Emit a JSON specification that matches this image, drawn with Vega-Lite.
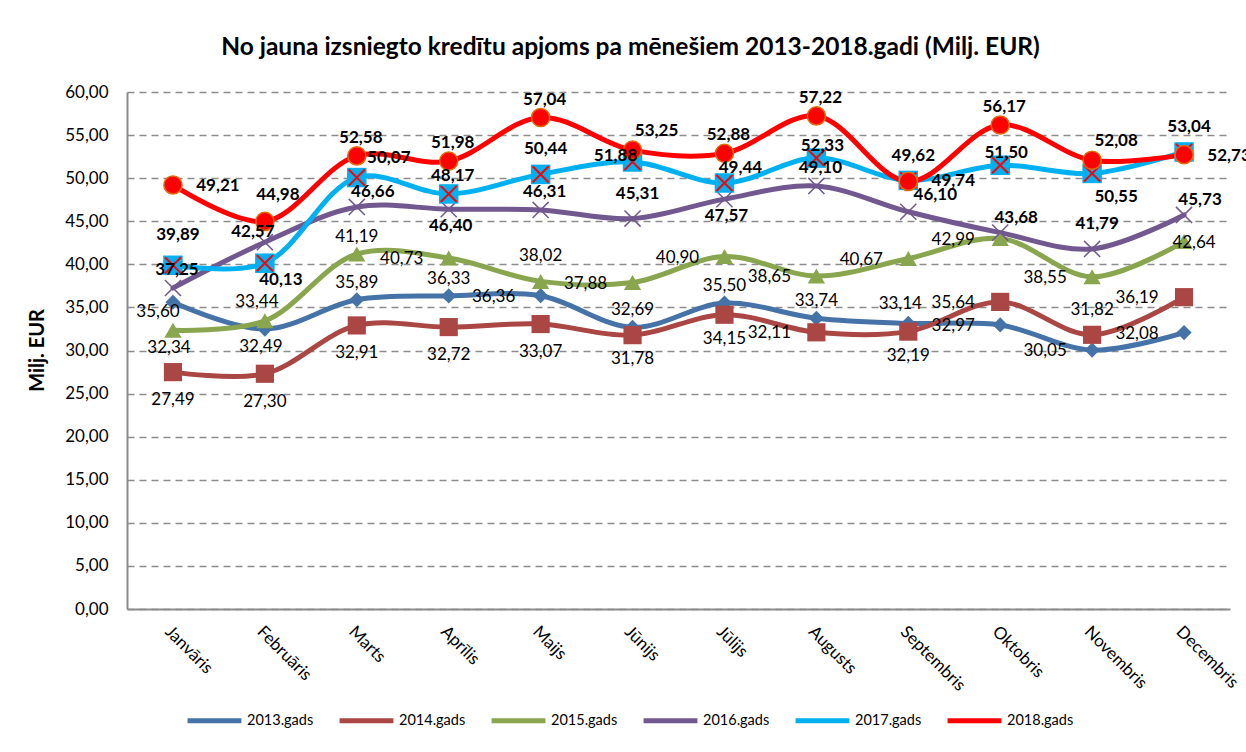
{
  "$schema": "https://vega.github.io/schema/vega-lite/v6.json",
  "autosize": "none",
  "width": 1103,
  "height": 517,
  "padding": {"left": 127, "top": 92, "right": 16, "bottom": 143},
  "background": "white",
  "config": {
    "locale": {"number": {"decimal": ",", "thousands": " ", "grouping": [3], "currency": ["", " €"]}},
    "font": "Lato",
    "view": {"stroke": null}
  },
  "title": {
    "text": "No jauna izsniegto kredītu apjoms pa mēnešiem 2013-2018.gadi (Milj. EUR)",
    "font": "Lato", "fontSize": 24.5, "fontWeight": "bold", "color": "#000000",
    "anchor": "middle", "frame": "group", "dx": -48, "offset": 23
  },
  "datasets": {
    "d": [
      {"m": "Janvāris", "s": "2013.gads", "v": 35.60}, {"m": "Februāris", "s": "2013.gads", "v": 32.49}, {"m": "Marts", "s": "2013.gads", "v": 35.89}, {"m": "Aprīlis", "s": "2013.gads", "v": 36.33}, {"m": "Maijs", "s": "2013.gads", "v": 36.36}, {"m": "Jūnijs", "s": "2013.gads", "v": 32.69}, {"m": "Jūlijs", "s": "2013.gads", "v": 35.50}, {"m": "Augusts", "s": "2013.gads", "v": 33.74}, {"m": "Septembris", "s": "2013.gads", "v": 33.14}, {"m": "Oktobris", "s": "2013.gads", "v": 32.97}, {"m": "Novembris", "s": "2013.gads", "v": 30.05}, {"m": "Decembris", "s": "2013.gads", "v": 32.08},
      {"m": "Janvāris", "s": "2014.gads", "v": 27.49}, {"m": "Februāris", "s": "2014.gads", "v": 27.30}, {"m": "Marts", "s": "2014.gads", "v": 32.91}, {"m": "Aprīlis", "s": "2014.gads", "v": 32.72}, {"m": "Maijs", "s": "2014.gads", "v": 33.07}, {"m": "Jūnijs", "s": "2014.gads", "v": 31.78}, {"m": "Jūlijs", "s": "2014.gads", "v": 34.15}, {"m": "Augusts", "s": "2014.gads", "v": 32.11}, {"m": "Septembris", "s": "2014.gads", "v": 32.19}, {"m": "Oktobris", "s": "2014.gads", "v": 35.64}, {"m": "Novembris", "s": "2014.gads", "v": 31.82}, {"m": "Decembris", "s": "2014.gads", "v": 36.19},
      {"m": "Janvāris", "s": "2015.gads", "v": 32.34}, {"m": "Februāris", "s": "2015.gads", "v": 33.44}, {"m": "Marts", "s": "2015.gads", "v": 41.19}, {"m": "Aprīlis", "s": "2015.gads", "v": 40.73}, {"m": "Maijs", "s": "2015.gads", "v": 38.02}, {"m": "Jūnijs", "s": "2015.gads", "v": 37.88}, {"m": "Jūlijs", "s": "2015.gads", "v": 40.90}, {"m": "Augusts", "s": "2015.gads", "v": 38.65}, {"m": "Septembris", "s": "2015.gads", "v": 40.67}, {"m": "Oktobris", "s": "2015.gads", "v": 42.99}, {"m": "Novembris", "s": "2015.gads", "v": 38.55}, {"m": "Decembris", "s": "2015.gads", "v": 42.64},
      {"m": "Janvāris", "s": "2016.gads", "v": 37.25}, {"m": "Februāris", "s": "2016.gads", "v": 42.57}, {"m": "Marts", "s": "2016.gads", "v": 46.66}, {"m": "Aprīlis", "s": "2016.gads", "v": 46.40}, {"m": "Maijs", "s": "2016.gads", "v": 46.31}, {"m": "Jūnijs", "s": "2016.gads", "v": 45.31}, {"m": "Jūlijs", "s": "2016.gads", "v": 47.57}, {"m": "Augusts", "s": "2016.gads", "v": 49.10}, {"m": "Septembris", "s": "2016.gads", "v": 46.10}, {"m": "Oktobris", "s": "2016.gads", "v": 43.68}, {"m": "Novembris", "s": "2016.gads", "v": 41.79}, {"m": "Decembris", "s": "2016.gads", "v": 45.73},
      {"m": "Janvāris", "s": "2017.gads", "v": 39.89}, {"m": "Februāris", "s": "2017.gads", "v": 40.13}, {"m": "Marts", "s": "2017.gads", "v": 50.07}, {"m": "Aprīlis", "s": "2017.gads", "v": 48.17}, {"m": "Maijs", "s": "2017.gads", "v": 50.44}, {"m": "Jūnijs", "s": "2017.gads", "v": 51.88}, {"m": "Jūlijs", "s": "2017.gads", "v": 49.44}, {"m": "Augusts", "s": "2017.gads", "v": 52.33}, {"m": "Septembris", "s": "2017.gads", "v": 49.74}, {"m": "Oktobris", "s": "2017.gads", "v": 51.50}, {"m": "Novembris", "s": "2017.gads", "v": 50.55}, {"m": "Decembris", "s": "2017.gads", "v": 53.04},
      {"m": "Janvāris", "s": "2018.gads", "v": 49.21}, {"m": "Februāris", "s": "2018.gads", "v": 44.98}, {"m": "Marts", "s": "2018.gads", "v": 52.58}, {"m": "Aprīlis", "s": "2018.gads", "v": 51.98}, {"m": "Maijs", "s": "2018.gads", "v": 57.04}, {"m": "Jūnijs", "s": "2018.gads", "v": 53.25}, {"m": "Jūlijs", "s": "2018.gads", "v": 52.88}, {"m": "Augusts", "s": "2018.gads", "v": 57.22}, {"m": "Septembris", "s": "2018.gads", "v": 49.62}, {"m": "Oktobris", "s": "2018.gads", "v": 56.17}, {"m": "Novembris", "s": "2018.gads", "v": 52.08}, {"m": "Decembris", "s": "2018.gads", "v": 52.73}
    ]
  },
  "data": {"name": "d"},
  "encoding": {
    "x": {
      "field": "m", "type": "ordinal",
      "sort": ["Janvāris", "Februāris", "Marts", "Aprīlis", "Maijs", "Jūnijs", "Jūlijs", "Augusts", "Septembris", "Oktobris", "Novembris", "Decembris"],
      "scale": {"type": "point", "padding": 0.5},
      "axis": {
        "title": null, "labelAngle": 45, "labelAlign": "left", "labelBaseline": "top",
        "labelFont": "Lato", "labelFontSize": 17, "labelColor": "#000000", "labelPadding": 14,
        "ticks": false, "grid": false, "domainColor": "#8c8c8c", "domainWidth": 2
      }
    },
    "y": {
      "field": "v", "type": "quantitative",
      "scale": {"domain": [0, 60], "nice": false, "zero": true},
      "axis": {
        "title": "Milj. EUR", "titleFont": "Lato", "titleFontSize": 20, "titleFontWeight": "bold", "titleColor": "#000000",
        "titleX": -90, "titleY": 258, "titleAngle": -90, "titleAlign": "center", "titleBaseline": "middle",
        "values": [0, 5, 10, 15, 20, 25, 30, 35, 40, 45, 50, 55, 60], "format": ".2f",
        "labelFont": "Lato", "labelFontSize": 17, "labelColor": "#000000", "labelPadding": 19,
        "ticks": false, "grid": true, "gridColor": "#8c8c8c", "gridDash": [7, 5], "gridWidth": 1.5,
        "domainColor": "#8c8c8c", "domainWidth": 2
      }
    }
  },
  "layer": [
    {
      "mark": {"type": "line", "interpolate": "catmull-rom", "strokeWidth": 5, "strokeCap": "round", "strokeJoin": "round"},
      "encoding": {
        "color": {
          "field": "s", "type": "nominal",
          "scale": {"domain": ["2013.gads", "2014.gads", "2015.gads", "2016.gads", "2017.gads", "2018.gads"], "range": ["#4572A7", "#AA4643", "#89A54E", "#71588F", "#00B0F0", "#FF0000"]},
          "legend": {
            "title": null, "orient": "none", "legendX": 58, "legendY": 599, "direction": "horizontal", "columns": 6,
            "symbolType": "stroke", "symbolSize": 2900, "symbolStrokeWidth": 5, "labelFont": "Lato", "labelFontSize": 14.5, "labelColor": "#000000",
            "labelOffset": 3, "columnPadding": 15
          }
        }
      }
    },
    {"transform": [{"filter": "datum.s=='2013.gads'"}], "mark": {"type": "point", "shape": "diamond", "filled": true, "size": 230, "color": "#4572A7", "opacity": 1}},
    {"transform": [{"filter": "datum.s=='2014.gads'"}], "mark": {"type": "point", "shape": "square", "filled": true, "size": 330, "color": "#AA4643", "opacity": 1}},
    {"transform": [{"filter": "datum.s=='2015.gads'"}], "mark": {"type": "point", "shape": "triangle-up", "filled": true, "size": 300, "color": "#89A54E", "opacity": 1}},
    {"transform": [{"filter": "datum.s=='2016.gads'"}], "mark": {"type": "point", "shape": "M-1,-1L1,1M-1,1L1,-1", "filled": false, "size": 260, "stroke": "#71588F", "strokeWidth": 1.5, "opacity": 1}},
    {"transform": [{"filter": "datum.s=='2017.gads'"}], "mark": {"type": "point", "shape": "square", "filled": true, "size": 380, "color": "#00B0F0", "opacity": 1}},
    {"transform": [{"filter": "datum.s=='2017.gads'"}], "mark": {"type": "point", "shape": "M-1,-1L1,1M-1,1L1,-1", "filled": false, "size": 260, "stroke": "#FF0000", "strokeWidth": 2, "opacity": 1}},
    {"transform": [{"filter": "datum.s=='2018.gads'"}], "mark": {"type": "point", "shape": "circle", "filled": true, "size": 330, "fill": "#FF0000", "stroke": "#E46C0A", "strokeWidth": 1.5, "opacity": 1}},

    {"transform": [{"filter": "indexof(['2013.gads|Marts','2013.gads|Aprīlis','2013.gads|Jūnijs','2013.gads|Jūlijs','2013.gads|Augusts','2015.gads|Marts'], datum.s+'|'+datum.m) >= 0"}],
     "mark": {"type": "text", "font": "Lato", "fontSize": 17, "color": "#000000", "dx": 0, "dy": -17}, "encoding": {"text": {"field": "v", "type": "quantitative", "format": ".2f"}}},
    {"transform": [{"filter": "indexof(['2013.gads|Septembris','2015.gads|Februāris'], datum.s+'|'+datum.m) >= 0"}],
     "mark": {"type": "text", "font": "Lato", "fontSize": 17, "color": "#000000", "dx": -8, "dy": -19}, "encoding": {"text": {"field": "v", "type": "quantitative", "format": ".2f"}}},
    {"transform": [{"filter": "indexof(['2014.gads|Novembris','2015.gads|Maijs'], datum.s+'|'+datum.m) >= 0"}],
     "mark": {"type": "text", "font": "Lato", "fontSize": 17, "color": "#000000", "dx": 0, "dy": -25}, "encoding": {"text": {"field": "v", "type": "quantitative", "format": ".2f"}}},
    {"transform": [{"filter": "indexof(['2013.gads|Februāris','2015.gads|Janvāris'], datum.s+'|'+datum.m) >= 0"}],
     "mark": {"type": "text", "font": "Lato", "fontSize": 17, "color": "#000000", "dx": -4, "dy": 18}, "encoding": {"text": {"field": "v", "type": "quantitative", "format": ".2f"}}},
    {"transform": [{"filter": "indexof(['2014.gads|Janvāris','2014.gads|Februāris','2014.gads|Marts','2014.gads|Aprīlis','2014.gads|Maijs'], datum.s+'|'+datum.m) >= 0"}],
     "mark": {"type": "text", "font": "Lato", "fontSize": 17, "color": "#000000", "dx": 0, "dy": 28}, "encoding": {"text": {"field": "v", "type": "quantitative", "format": ".2f"}}},
    {"transform": [{"filter": "indexof(['2014.gads|Jūnijs','2014.gads|Jūlijs','2014.gads|Septembris'], datum.s+'|'+datum.m) >= 0"}],
     "mark": {"type": "text", "font": "Lato", "fontSize": 17, "color": "#000000", "dx": 0, "dy": 24}, "encoding": {"text": {"field": "v", "type": "quantitative", "format": ".2f"}}},
    {"transform": [{"filter": "indexof(['2013.gads|Maijs','2013.gads|Oktobris','2013.gads|Novembris','2013.gads|Decembris','2014.gads|Augusts','2014.gads|Oktobris','2014.gads|Decembris','2015.gads|Aprīlis','2015.gads|Jūnijs','2015.gads|Jūlijs','2015.gads|Augusts','2015.gads|Septembris','2015.gads|Oktobris','2015.gads|Novembris'], datum.s+'|'+datum.m) >= 0"}],
     "mark": {"type": "text", "font": "Lato", "fontSize": 17, "color": "#000000", "dx": -47, "dy": 1}, "encoding": {"text": {"field": "v", "type": "quantitative", "format": ".2f"}}},
    {"transform": [{"filter": "datum.s=='2013.gads' && datum.m=='Janvāris'"}],
     "mark": {"type": "text", "font": "Lato", "fontSize": 17, "color": "#000000", "dx": -15, "dy": 10}, "encoding": {"text": {"field": "v", "type": "quantitative", "format": ".2f"}}},
    {"transform": [{"filter": "datum.s=='2015.gads' && datum.m=='Decembris'"}],
     "mark": {"type": "text", "font": "Lato", "fontSize": 17, "color": "#000000", "dx": 10, "dy": 1}, "encoding": {"text": {"field": "v", "type": "quantitative", "format": ".2f"}}},

    {"transform": [{"filter": "indexof(['2016.gads|Janvāris','2016.gads|Maijs','2016.gads|Augusts','2017.gads|Aprīlis','2018.gads|Marts','2018.gads|Aprīlis','2018.gads|Maijs','2018.gads|Jūlijs','2018.gads|Augusts','2018.gads|Oktobris'], datum.s+'|'+datum.m) >= 0"}],
     "mark": {"type": "text", "font": "Lato", "fontSize": 17, "fontWeight": "bold", "color": "#000000", "dx": 4, "dy": -18}, "encoding": {"text": {"field": "v", "type": "quantitative", "format": ".2f"}}},
    {"transform": [{"filter": "indexof(['2016.gads|Jūnijs','2016.gads|Novembris','2017.gads|Maijs','2017.gads|Decembris','2018.gads|Septembris'], datum.s+'|'+datum.m) >= 0"}],
     "mark": {"type": "text", "font": "Lato", "fontSize": 17, "fontWeight": "bold", "color": "#000000", "dx": 5, "dy": -25}, "encoding": {"text": {"field": "v", "type": "quantitative", "format": ".2f"}}},
    {"transform": [{"filter": "indexof(['2016.gads|Marts','2016.gads|Oktobris','2016.gads|Decembris','2017.gads|Jūlijs'], datum.s+'|'+datum.m) >= 0"}],
     "mark": {"type": "text", "font": "Lato", "fontSize": 17, "fontWeight": "bold", "color": "#000000", "dx": 16, "dy": -15}, "encoding": {"text": {"field": "v", "type": "quantitative", "format": ".2f"}}},
    {"transform": [{"filter": "indexof(['2018.gads|Jūnijs','2018.gads|Novembris'], datum.s+'|'+datum.m) >= 0"}],
     "mark": {"type": "text", "font": "Lato", "fontSize": 17, "fontWeight": "bold", "color": "#000000", "dx": 24, "dy": -19}, "encoding": {"text": {"field": "v", "type": "quantitative", "format": ".2f"}}},
    {"transform": [{"filter": "indexof(['2016.gads|Aprīlis','2016.gads|Jūlijs'], datum.s+'|'+datum.m) >= 0"}],
     "mark": {"type": "text", "font": "Lato", "fontSize": 17, "fontWeight": "bold", "color": "#000000", "dx": 2, "dy": 17}, "encoding": {"text": {"field": "v", "type": "quantitative", "format": ".2f"}}},
    {"transform": [{"filter": "indexof(['2017.gads|Septembris','2018.gads|Janvāris','2018.gads|Decembris'], datum.s+'|'+datum.m) >= 0"}],
     "mark": {"type": "text", "font": "Lato", "fontSize": 17, "fontWeight": "bold", "color": "#000000", "dx": 45, "dy": 1}, "encoding": {"text": {"field": "v", "type": "quantitative", "format": ".2f"}}},
    {"transform": [{"filter": "indexof(['2017.gads|Augusts','2017.gads|Oktobris'], datum.s+'|'+datum.m) >= 0"}],
     "mark": {"type": "text", "font": "Lato", "fontSize": 17, "fontWeight": "bold", "color": "#000000", "dx": 6, "dy": -12}, "encoding": {"text": {"field": "v", "type": "quantitative", "format": ".2f"}}},
    {"transform": [{"filter": "datum.s=='2016.gads' && datum.m=='Februāris'"}],
     "mark": {"type": "text", "font": "Lato", "fontSize": 17, "fontWeight": "bold", "color": "#000000", "dx": -12, "dy": -10}, "encoding": {"text": {"field": "v", "type": "quantitative", "format": ".2f"}}},
    {"transform": [{"filter": "datum.s=='2016.gads' && datum.m=='Septembris'"}],
     "mark": {"type": "text", "font": "Lato", "fontSize": 17, "fontWeight": "bold", "color": "#000000", "dx": 27, "dy": -17}, "encoding": {"text": {"field": "v", "type": "quantitative", "format": ".2f"}}},
    {"transform": [{"filter": "datum.s=='2017.gads' && datum.m=='Janvāris'"}],
     "mark": {"type": "text", "font": "Lato", "fontSize": 17, "fontWeight": "bold", "color": "#000000", "dx": 5, "dy": -30}, "encoding": {"text": {"field": "v", "type": "quantitative", "format": ".2f"}}},
    {"transform": [{"filter": "datum.s=='2017.gads' && datum.m=='Februāris'"}],
     "mark": {"type": "text", "font": "Lato", "fontSize": 17, "fontWeight": "bold", "color": "#000000", "dx": 16, "dy": 17}, "encoding": {"text": {"field": "v", "type": "quantitative", "format": ".2f"}}},
    {"transform": [{"filter": "datum.s=='2017.gads' && datum.m=='Marts'"}],
     "mark": {"type": "text", "font": "Lato", "fontSize": 17, "fontWeight": "bold", "color": "#000000", "dx": 32, "dy": -20}, "encoding": {"text": {"field": "v", "type": "quantitative", "format": ".2f"}}},
    {"transform": [{"filter": "datum.s=='2017.gads' && datum.m=='Jūnijs'"}],
     "mark": {"type": "text", "font": "Lato", "fontSize": 17, "fontWeight": "bold", "color": "#000000", "dx": -17, "dy": -6}, "encoding": {"text": {"field": "v", "type": "quantitative", "format": ".2f"}}},
    {"transform": [{"filter": "datum.s=='2017.gads' && datum.m=='Novembris'"}],
     "mark": {"type": "text", "font": "Lato", "fontSize": 17, "fontWeight": "bold", "color": "#000000", "dx": 24, "dy": 24}, "encoding": {"text": {"field": "v", "type": "quantitative", "format": ".2f"}}},
    {"transform": [{"filter": "datum.s=='2018.gads' && datum.m=='Februāris'"}],
     "mark": {"type": "text", "font": "Lato", "fontSize": 17, "fontWeight": "bold", "color": "#000000", "dx": 13, "dy": -26}, "encoding": {"text": {"field": "v", "type": "quantitative", "format": ".2f"}}}
  ]
}
